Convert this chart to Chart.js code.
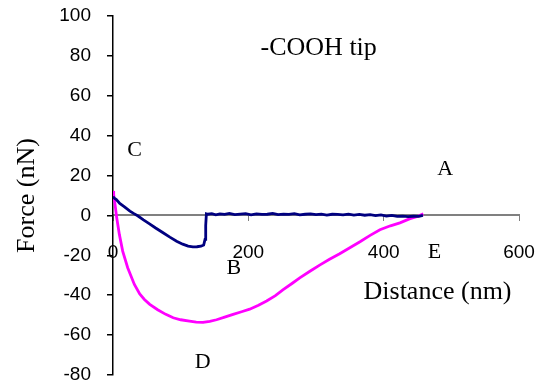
<!DOCTYPE html>
<html>
<head>
<meta charset="utf-8">
<script src="https://cdn.jsdelivr.net/npm/chart.js@4"></script>
<style>
  html, body { margin: 0; padding: 0; background: #fff; }
  #wrap { width: 548px; height: 390px; }
</style>
</head>
<body>
<div id="wrap"><canvas id="forceChart" width="548" height="390"></canvas></div>
<script>
// axis ticks
const X_TICKS = [0, 200, 400, 600];
const Y_TICKS = [-80, -60, -40, -20, 0, 20, 40, 60, 80, 100];

// navy trace (approach)
const approachX = [0, 2, 5, 10, 17, 25, 31, 37, 45, 54, 63, 74, 84, 94, 103, 111, 118, 124, 130, 134,
  136, 137, 138, 140, 146, 152, 158, 165, 172, 180, 188, 196, 204, 212, 220, 228, 236, 244, 252, 260,
  268, 276, 284, 292, 300, 308, 316, 324, 332, 340, 348, 356, 364, 372, 380, 388, 396, 404, 412, 420,
  428, 436, 444, 452, 458];
const approachY = [9.5, 8.6, 8.0, 6.0, 4.3, 2.2, 0.9, -0.3, -2.2, -4.2, -6.3, -8.7, -10.9, -12.9, -14.4, -15.4, -15.8, -15.7, -15.4, -14.8,
  -12.0, -5.0, 0.8, 0.6, 0.9, 0.3, 0.8, 0.5, 1.0, 0.4, 0.7, 0.9, 0.3, 0.8, 0.5, 0.6, 1.0, 0.4, 0.7, 0.5,
  0.9, 0.3, 0.6, 0.8, 0.4, 0.7, 0.2, 0.6, 0.5, 0.3, 0.7, 0.2, 0.5, 0.1, 0.4, -0.1, 0.3, -0.3, 0.0, -0.5,
  -0.3, -0.6, -0.4, -0.5, 0.0];

// magenta trace (retract)
const retractX = [0, 1, 3, 5.5, 9.4, 14.3, 21.7, 31.6, 39.5, 46.4, 54.3, 66, 78, 89, 100, 113, 123, 133, 143, 153,
  165, 177.5, 190, 202, 215, 227, 240, 251, 265, 276, 291, 306, 320, 335, 350, 365, 380, 394.5, 410, 424,
  439, 450, 458.6];
const retractY = [12.2, 10.5, 5.5, -1.2, -9.5, -17.9, -26.2, -34.6, -39.4, -42.1, -44.6, -47.3, -49.6, -51.3, -52.3, -53.0, -53.5, -53.6, -53.1, -52.3,
  -51.0, -49.6, -48.3, -47.0, -45.0, -42.9, -40.2, -37.3, -34.0, -31.3, -28.0, -24.8, -22.0, -19.2, -16.2, -13.2, -10.0, -7.2, -5.2, -3.7,
  -1.6, -0.5, 0.8];

// text placed in the plot (data coordinates)
const noteText = ["-COOH tip", "A", "B", "C", "D", "E", "Distance (nm)"];
const noteX = [304, 491, 178.6, 32, 132.7, 475, 479.6];
const noteY = [84, 23.3, -26.6, 32.8, -73.6, -18.5, -38.3];
const noteSize = [26, 22, 22, 22, 22, 22, 26];

const SERIF = "'Liberation Serif', 'Times New Roman', serif";
const SANS = "'Liberation Sans', Arial, sans-serif";

function toPoints(xs, ys) {
  return xs.map((x, i) => ({ x, y: ys[i] }));
}

const notesPlugin = {
  id: "notes",
  afterDraw(chart) {
    const { ctx, scales } = chart;
    ctx.save();
    ctx.fillStyle = "#000";
    ctx.textAlign = "center";
    ctx.textBaseline = "middle";
    noteText.forEach((t, i) => {
      ctx.font = noteSize[i] + "px " + SERIF;
      ctx.fillText(t, scales.x.getPixelForValue(noteX[i]), scales.y.getPixelForValue(noteY[i]));
    });
    ctx.restore();
  },
};

new Chart(document.getElementById("forceChart").getContext("2d"), {
  type: "scatter",
  data: {
    datasets: [
      {
        label: "Approach",
        data: toPoints(approachX, approachY),
        showLine: true,
        borderColor: "#000080",
        borderWidth: 2.8,
        pointRadius: 0,
        pointHoverRadius: 0,
        tension: 0,
      },
      {
        label: "Retract",
        data: toPoints(retractX, retractY),
        showLine: true,
        borderColor: "#ff00ff",
        borderWidth: 2.8,
        pointRadius: 0,
        pointHoverRadius: 0,
        tension: 0,
      },
    ],
  },
  options: {
    responsive: false,
    animation: false,
    layout: { autoPadding: false, padding: { left: 0, right: 29, top: 16, bottom: 15 } },
    plugins: { legend: { display: false }, tooltip: { enabled: false } },
    scales: {
      x: {
        type: "linear",
        min: 0,
        max: 600,
        position: { y: 0 },
        afterFit: (s) => {
          s.height = 0;
          s.paddingLeft = 0;
          s.paddingRight = 0;
        },
        afterBuildTicks: (s) => { s.ticks = X_TICKS.map((v) => ({ value: v })); },
        ticks: { color: "#000", font: { family: SANS, size: 19 }, padding: 21, maxRotation: 0, autoSkip: false },
        grid: { drawOnChartArea: false, drawTicks: true, tickLength: 5, color: "#808080", lineWidth: 1 },
        border: { color: "#808080", width: 2 },
      },
      y: {
        min: -80,
        max: 100,
        position: "left",
        afterFit: (s) => {
          s.width = 113;
          s.paddingTop = 0;
          s.paddingBottom = 0;
        },
        afterBuildTicks: (s) => { s.ticks = Y_TICKS.map((v) => ({ value: v })); },
        ticks: { color: "#000", font: { family: SANS, size: 19 }, padding: 16 },
        grid: { drawOnChartArea: false, drawTicks: true, tickLength: 6, color: "#000", lineWidth: 1.5 },
        border: { color: "#000", width: 1.5 },
        title: {
          display: true,
          text: "Force (nN)",
          color: "#000",
          font: { family: SERIF, size: 26 },
          padding: { top: 12, bottom: 0 },
        },
      },
    },
  },
  plugins: [notesPlugin],
});
</script>
</body>
</html>
